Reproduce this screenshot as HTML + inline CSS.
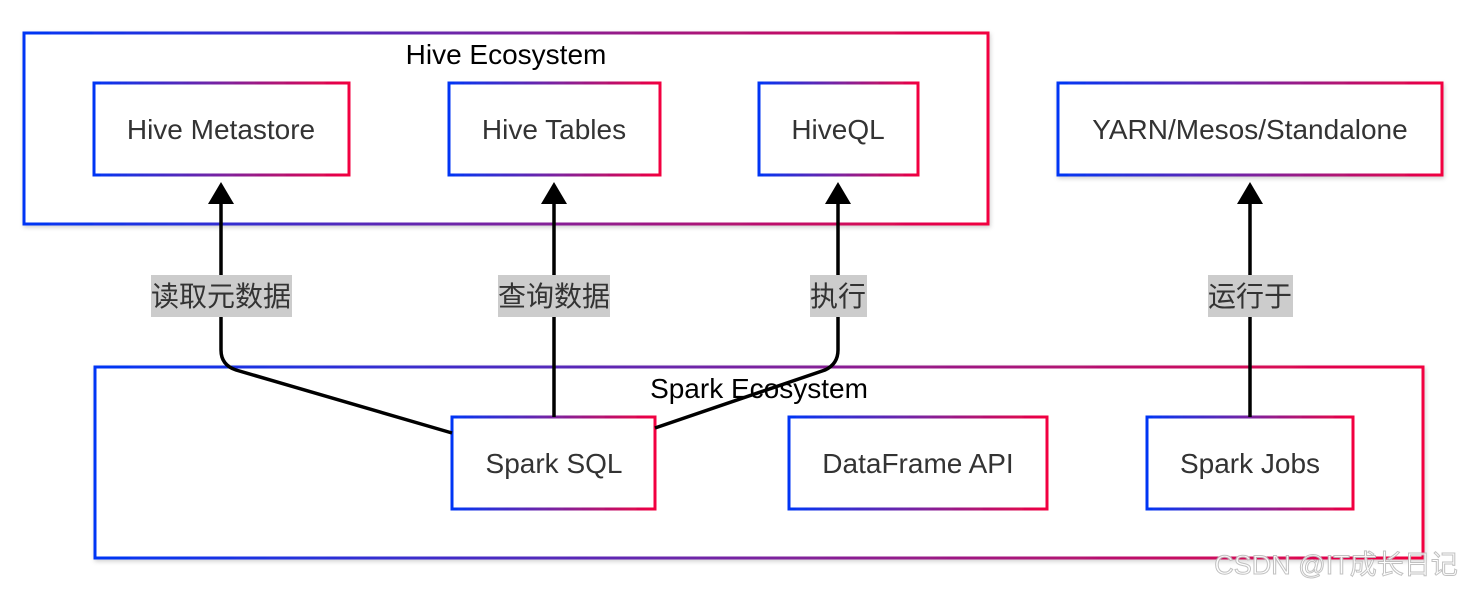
<!DOCTYPE html>
<html><head><meta charset="utf-8"><style>
html,body{margin:0;padding:0;background:#fff;}
svg{display:block;}
</style></head><body>
<svg width="1462" height="590" viewBox="0 0 1462 590" xmlns="http://www.w3.org/2000/svg">
<defs>
<linearGradient id="g" x1="0" y1="0" x2="1" y2="0">
<stop offset="0" stop-color="#0036f5"/><stop offset="0.5" stop-color="#7a23a0"/><stop offset="1" stop-color="#f2003f"/>
</linearGradient>
<filter id="sh" x="-5%" y="-5%" width="110%" height="115%"><feDropShadow dx="1" dy="2" stdDeviation="2" flood-color="#000" flood-opacity="0.18"/></filter>
</defs>
<g fill="#fff" stroke="url(#g)" stroke-width="3" filter="url(#sh)">
<rect x="24" y="33" width="964" height="191"/>
<rect x="95" y="367" width="1328" height="191"/>
<rect x="94" y="83" width="255" height="92"/>
<rect x="449" y="83" width="211" height="92"/>
<rect x="759" y="83" width="159" height="92"/>
<rect x="1058" y="83" width="384" height="92"/>
<rect x="452" y="417" width="203" height="92"/>
<rect x="789" y="417" width="258" height="92"/>
<rect x="1147" y="417" width="206" height="92"/>
</g>
<g font-family="Liberation Sans, Arial, sans-serif" font-size="28" text-anchor="middle">
<text x="506" y="64" fill="#000">Hive Ecosystem</text>
<text x="759" y="398" fill="#000">Spark Ecosystem</text>
<g fill="#333">
<text x="221" y="139">Hive Metastore</text>
<text x="554" y="139">Hive Tables</text>
<text x="838" y="139">HiveQL</text>
<text x="1250" y="139">YARN/Mesos/Standalone</text>
<text x="554" y="473">Spark SQL</text>
<text x="918" y="473">DataFrame API</text>
<text x="1250" y="473">Spark Jobs</text>
</g>
</g>
<g fill="none" stroke="#000" stroke-width="3.5">
<path d="M452 433 L236 370 Q221 365 221 350 L221 200"/>
<path d="M554 417 L554 200"/>
<path d="M655 428 L825 370 Q838 364 838 350 L838 200"/>
<path d="M1250 417 L1250 200"/>
</g>
<g fill="#000">
<path d="M221 182 L208 204 L234 204 Z"/>
<path d="M554 182 L541 204 L567 204 Z"/>
<path d="M838 182 L825 204 L851 204 Z"/>
<path d="M1250 182 L1237 204 L1263 204 Z"/>
</g>
<g fill="#cccccc">
<rect x="151" y="275" width="141" height="42"/>
<rect x="498" y="275" width="112" height="42"/>
<rect x="810" y="275" width="57" height="42"/>
<rect x="1208" y="275" width="85" height="42"/>
</g>
<g font-family="Liberation Sans, 'Noto Sans CJK SC', sans-serif" font-size="28" fill="#333" text-anchor="middle">
<text x="221" y="306">读取元数据</text>
<text x="554" y="306">查询数据</text>
<text x="838" y="306">执行</text>
<text x="1250" y="306">运行于</text>
</g>
<text x="1336" y="574" font-family="Liberation Sans, 'Noto Sans CJK SC', sans-serif" font-size="27" fill="#fff" stroke="#bbb" stroke-width="1" text-anchor="middle" opacity="0.9">CSDN @IT成长日记</text>
</svg>
</body></html>
